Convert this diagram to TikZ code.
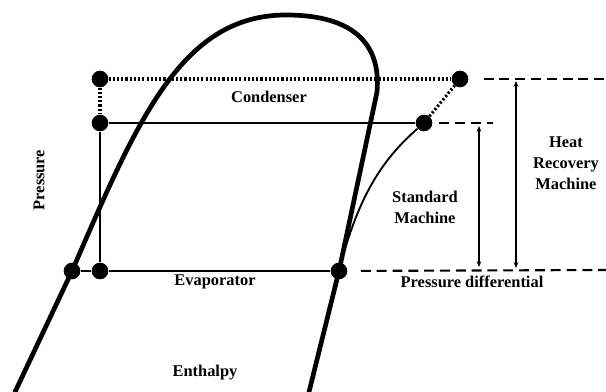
\documentclass[tikz,border=0pt]{standalone}
\usepackage{fontspec}
\setmainfont{Liberation Serif}
\usetikzlibrary{arrows.meta,positioning}
\tikzset{
  dot/.style={circle, fill=black, inner sep=0pt, minimum size=0.5cm},
  dome/.style={line width=4pt, line cap=round},
  cyc/.style={line width=2.4pt},
  thincurve/.style={line width=1.6pt},
  dotline/.style={line width=2.6pt, dash pattern=on 1.8pt off 1.8pt},
  dashline/.style={line width=1.8pt, dash pattern=on 8.5pt off 5pt},
  dim/.style={{Stealth[length=5pt,width=4pt]}-{Stealth[length=5pt,width=4pt]}, line width=1pt},
  lbl/.style={font=\fontsize{14}{18}\selectfont\bfseries, align=center}
}

\begin{document}
\begin{tikzpicture}[x=0.03cm,y=0.03cm]
  \useasboundingbox (0,0) rectangle (606,392);

  % saturation dome
  \draw[dome] (15,0) -- (72,121) .. controls (136,268) and (180,377) .. (286,377)
    .. controls (357,377) and (381,345) .. (377,300) -- (339,121) -- (309,0);

  % cycle points
  \node[dot] (a) at (100,313) {};
  \node[dot] (b) at (460,313) {};
  \node[dot] (c) at (100,269) {};
  \node[dot] (d) at (424,269) {};
  \node[dot] (e) at (72,121) {};
  \node[dot] (f) at (100,121) {};
  \node[dot] (g) at (339,121) {};

  \draw[dotline] (a) -- (b);
  \draw[dotline] (a) -- (c);
  \draw[dotline] (d) -- (b);
  \draw[cyc] (c) -- (d);
  \draw[cyc] (c) -- (f);
  \draw[cyc] (e) -- (f);
  \draw[cyc] (f) -- (g);
  \draw[thincurve] (g) .. controls (360,200) and (385,235) .. (d);

  % pressure levels
  \coordinate (bEnd) at (606,313);
  \coordinate (dEnd) at (493,269);
  \coordinate (gEnd) at (606,122);
  \draw[dashline, shorten <=0.45cm] (b) -- (bEnd);
  \draw[dashline, shorten <=0.2cm] (d) -- (dEnd);
  \draw[dashline, shorten <=0.4cm] (g) -- (gEnd);

  \coordinate (sTop) at (479,266); \coordinate (sBot) at (479,125);
  \coordinate (hTop) at (516,311); \coordinate (hBot) at (516,124);
  \draw[dim] (sTop) -- (sBot);
  \draw[dim] (hTop) -- (hBot);

  % labels
  \node[lbl] (cond) at (269,295) {Condenser};
  \node[lbl] (hrm) at (566,229) {Heat\\Recovery\\Machine};
  \node[lbl] (std) at (425,185) {Standard\\Machine};
  \node[lbl] (pdiff) at (472,110) {Pressure differential};
  \node[lbl] (evap) at (215,110) {Evaporator};
  \node[lbl] (enth) at (205,19) {Enthalpy};
  \node[lbl, rotate=90] (pres) at (39,212) {Pressure};
\end{tikzpicture}
\end{document}
